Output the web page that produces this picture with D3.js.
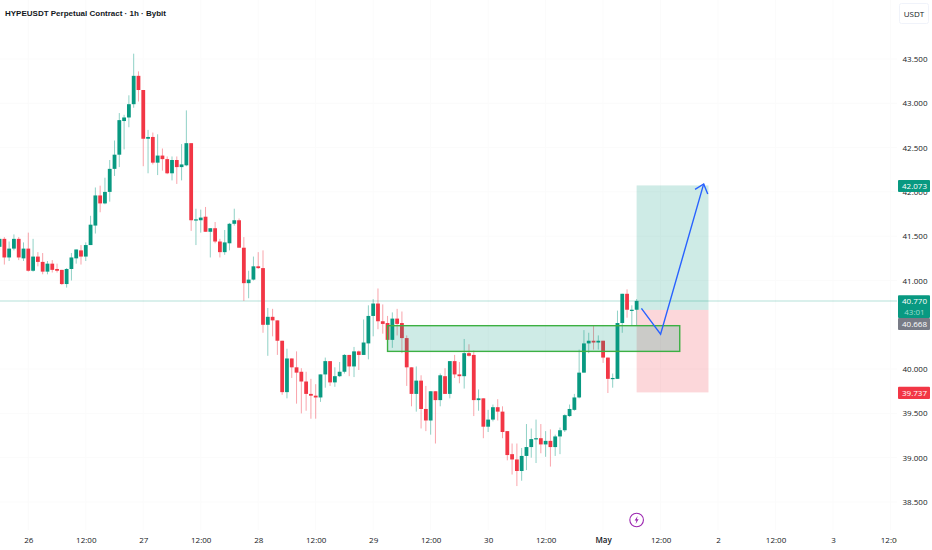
<!DOCTYPE html>
<html>
<head>
<meta charset="utf-8">
<script src="https://cdn.jsdelivr.net/npm/d3@7"></script>
<style>
html, body { margin: 0; padding: 0; background: #fff; }
svg { display: block; }
text { font-family: "Open Sans", sans-serif; }
</style>
</head>
<body>
<svg id="chart" width="932" height="550"></svg>
<script>
// hourly candles, first one is 25 Apr 18:00
var firstCandle = Date.UTC(2025, 3, 25, 18);

var candleOpen = [
    41.38,41.47,41.26,41.36,41.47,41.25,
    41.36,41.11,41.27,41.21,41.10,41.19,41.13,41.12,40.96,41.13,41.25,41.34,41.27,41.40,41.62,41.96,41.87,42.00,42.26,42.42,42.80,42.84,42.99,43.31,
    43.15,42.60,42.62,42.33,42.41,42.37,42.21,42.36,42.28,42.30,42.55,41.68,41.68,41.72,41.55,41.59,41.44,41.32,41.42,41.64,41.68,41.37,40.97,41.01,
    41.16,41.14,40.50,40.59,40.55,40.32,39.74,40.12,40.02,39.97,39.86,39.72,39.70,39.68,39.94,40.09,39.85,39.92,39.97,40.16,40.03,40.20,40.16,40.29,
    40.60,40.74,40.54,40.52,40.33,40.57,40.52,40.35,40.02,39.72,39.87,39.55,39.42,39.75,39.65,39.92,39.72,40.09,39.94,39.92,40.18,40.16,39.65,39.67,
    39.35,39.43,39.57,39.52,39.30,39.04,38.98,38.85,39.02,39.12,39.21,39.22,39.15,39.19,39.12,39.24,39.31,39.47,39.54,39.68,39.96,40.29,40.32,40.30,
    40.32,40.13,39.89,39.89,40.52,40.85,40.66,40.67
];
var candleHigh = [
    41.49,41.49,41.44,41.52,41.49,41.43,
    41.54,41.47,41.32,41.31,41.22,41.23,41.19,41.12,41.14,41.31,41.35,41.40,41.43,41.73,42.05,42.07,42.16,42.36,42.58,42.89,42.87,43.09,43.56,43.36,
    43.15,42.70,42.67,42.65,42.49,42.40,42.40,42.40,42.54,42.92,42.55,41.81,41.80,41.83,41.59,41.66,41.47,41.57,41.65,41.81,41.70,41.49,41.11,41.27,
    41.32,41.34,40.69,40.68,40.55,40.32,40.23,40.12,40.20,40.01,39.97,39.89,39.83,39.94,40.13,40.09,40.02,40.08,40.17,40.16,40.25,40.21,40.56,40.72,
    40.79,40.91,40.73,40.60,40.64,40.68,40.65,40.38,40.02,40.03,39.93,39.81,39.75,39.75,39.95,40.01,40.09,40.16,40.08,40.34,40.28,40.21,39.77,39.67,
    39.54,39.60,39.66,39.58,39.30,39.16,39.16,39.11,39.38,39.33,39.43,39.38,39.30,39.32,39.26,39.34,39.49,39.60,39.72,40.22,40.44,40.41,40.49,40.38,
    40.32,40.13,39.95,40.66,40.85,40.90,40.72,40.79
];
var candleLow = [
    41.34,41.18,41.22,41.34,41.23,41.22,
    41.10,41.10,41.16,41.07,41.07,41.09,41.09,40.95,40.92,41.00,41.19,41.18,41.22,41.40,41.53,41.77,41.86,41.89,42.18,42.28,42.48,42.73,42.95,43.02,
    42.29,42.21,42.31,42.19,42.24,42.20,42.13,42.09,42.13,42.29,41.56,41.40,41.54,41.55,41.26,41.42,41.26,41.29,41.34,41.62,41.37,40.77,40.80,41.00,
    41.13,40.41,40.15,40.37,40.16,39.71,39.67,39.90,39.61,39.50,39.53,39.44,39.44,39.63,39.79,39.81,39.80,39.91,39.95,39.92,39.91,39.99,40.16,40.11,
    40.37,40.45,40.40,40.33,40.24,40.38,40.18,39.81,39.58,39.52,39.33,39.30,39.26,39.16,39.58,39.72,39.67,39.90,39.84,39.78,40.14,39.47,39.53,39.22,
    39.29,39.41,39.42,39.22,38.97,38.81,38.68,38.74,38.86,39.00,38.94,39.05,39.01,38.90,39.02,39.04,39.29,39.46,39.53,39.67,39.96,40.18,40.22,40.22,
    40.07,39.73,39.79,39.89,40.41,40.58,40.49,40.49
];
var candleClose = [
    41.47,41.26,41.36,41.47,41.26,41.36,
    41.11,41.27,41.21,41.10,41.19,41.12,41.11,40.96,41.13,41.26,41.35,41.27,41.40,41.63,41.96,41.87,42.00,42.26,42.42,42.81,42.84,42.99,43.31,43.15,
    42.60,42.62,42.33,42.41,42.37,42.21,42.36,42.28,42.31,42.55,41.68,41.69,41.71,41.55,41.59,41.44,41.32,41.43,41.64,41.68,41.37,40.97,41.01,41.16,
    41.14,40.50,40.59,40.55,40.32,39.74,40.12,40.02,39.96,39.86,39.72,39.70,39.68,39.94,40.09,39.85,39.92,39.97,40.16,40.03,40.20,40.16,40.30,40.60,
    40.74,40.54,40.51,40.33,40.57,40.51,40.35,40.02,39.72,39.87,39.55,39.42,39.75,39.65,39.93,39.72,40.09,39.94,39.92,40.18,40.15,39.65,39.67,39.35,
    39.43,39.57,39.52,39.29,39.03,38.98,38.85,39.02,39.12,39.21,39.22,39.15,39.19,39.12,39.24,39.31,39.48,39.55,39.68,39.96,40.29,40.32,40.30,40.32,
    40.13,39.89,39.90,40.52,40.85,40.67,40.67,40.77
];

// 40.500 is hidden behind the price tags in the picture, so it has no label
var priceTicks = [38.5, 39, 39.5, 40, 41, 41.5, 42, 42.5, 43, 43.5];
var hourTicks = [0, 12, 24, 36, 48, 60, 72, 84, 96, 108, 120, 132, 144, 156, 168, 180];
var hourLabels = ['26', '12:00', '27', '12:00', '28', '12:00', '29', '12:00', '30', '12:00', 'May', '12:00', '2', '12:00', '3', '12:00'];

// the drawings on top of the candles, hours count from 26 Apr 00:00
var zoneHours = [75, 136];
var zonePrices = [40.49, 40.20];
var positionHours = [127, 142];
var positionPrices = [42.073, 40.668, 39.737];
var arrowHours = [128, 132, 141];
var arrowPrices = [40.685, 40.395, 42.09];
var arrowWingHours = [139.2, 141.85];
var arrowWingPrices = [42.028, 41.975];
var lastPrice = 40.77;

var green = '#089981',
    red = '#f23645',
    paneRight = 897
;

function hours_to_date(h) {
    return new Date(Date.UTC(2025, 3, 26) + h * 60 * 60 * 1000);
}

var svg = d3.select('#chart'),
    x = d3.scaleUtc().domain([hours_to_date(0), hours_to_date(180)]).range([28.3, 890.5]),
    y = d3.scaleLinear().domain([38.5, 43.5]).range([502, 59])
;

svg.append('clipPath').attr('id', 'pane')
    .append('rect').attr('width', paneRight).attr('height', 550);

var pane = svg.append('g').attr('clip-path', 'url(#pane)');

// nearly invisible grid
pane.selectAll('.hgrid').data(priceTicks).enter().append('line')
    .attr('x1', 0).attr('x2', paneRight)
    .attr('y1', d => y(d)).attr('y2', d => y(d))
    .attr('stroke', '#fbfbfb');
pane.selectAll('.vgrid').data(hourTicks).enter().append('line')
    .attr('x1', d => x(hours_to_date(d))).attr('x2', d => x(hours_to_date(d)))
    .attr('y1', 0).attr('y2', 530)
    .attr('stroke', '#fbfbfb');

// last price line
pane.append('line')
    .attr('x1', 0).attr('x2', paneRight)
    .attr('y1', y(lastPrice)).attr('y2', y(lastPrice))
    .attr('stroke', green).attr('stroke-opacity', 0.2).attr('stroke-width', 1.5);

// candles
var candles = candleOpen.map((o, i) => ({
    date: new Date(firstCandle + i * 60 * 60 * 1000),
    open: o, high: candleHigh[i], low: candleLow[i], close: candleClose[i]
}));

var candle = pane.selectAll('.candle').data(candles).enter().append('g');

candle.append('line')
    .attr('x1', d => x(d.date)).attr('x2', d => x(d.date))
    .attr('y1', d => y(d.high)).attr('y2', d => y(d.low))
    .attr('stroke', d => d.close >= d.open ? green : red)
    .attr('stroke-opacity', 0.45);

candle.append('rect')
    .attr('x', d => x(d.date) - 1.9)
    .attr('width', 3.8)
    .attr('y', d => y(Math.max(d.open, d.close)))
    .attr('height', d => Math.max(1.2, Math.abs(y(d.open) - y(d.close))))
    .attr('fill', d => d.close >= d.open ? green : red);

// long position box
pane.append('rect')
    .attr('x', x(hours_to_date(positionHours[0])))
    .attr('width', x(hours_to_date(positionHours[1])) - x(hours_to_date(positionHours[0])))
    .attr('y', y(positionPrices[0]))
    .attr('height', y(positionPrices[1]) - y(positionPrices[0]))
    .attr('fill', green).attr('fill-opacity', 0.2);
pane.append('rect')
    .attr('x', x(hours_to_date(positionHours[0])))
    .attr('width', x(hours_to_date(positionHours[1])) - x(hours_to_date(positionHours[0])))
    .attr('y', y(positionPrices[1]))
    .attr('height', y(positionPrices[2]) - y(positionPrices[1]))
    .attr('fill', red).attr('fill-opacity', 0.2);

// demand zone
pane.append('rect')
    .attr('x', x(hours_to_date(zoneHours[0])))
    .attr('width', x(hours_to_date(zoneHours[1])) - x(hours_to_date(zoneHours[0])))
    .attr('y', y(zonePrices[0]))
    .attr('height', y(zonePrices[1]) - y(zonePrices[0]))
    .attr('fill', green).attr('fill-opacity', 0.2)
    .attr('stroke', '#3cb043').attr('stroke-width', 1.4);

// arrow
var arrow_line = d3.line()
    .x(d => x(hours_to_date(d[0])))
    .y(d => y(d[1]));

pane.append('path')
    .attr('d', arrow_line(arrowHours.map((h, i) => [h, arrowPrices[i]])))
    .attr('fill', 'none').attr('stroke', '#2962ff').attr('stroke-width', 1.4);
pane.append('path')
    .attr('d', arrow_line([
        [arrowWingHours[0], arrowWingPrices[0]],
        [arrowHours[2], arrowPrices[2]],
        [arrowWingHours[1], arrowWingPrices[1]]
    ]))
    .attr('fill', 'none').attr('stroke', '#2962ff').attr('stroke-width', 1.4);

// title
svg.append('text')
    .attr('x', 5).attr('y', 15.5)
    .style('font-family', '"Liberation Sans", sans-serif')
    .attr('font-size', 8).attr('font-weight', 700).attr('fill', '#131722')
    .text('HYPEUSDT Perpetual Contract · 1h · Bybit');

// time axis
var timeAxis = pane.append('g')
    .attr('transform', 'translate(0,534)')
    .call(d3.axisBottom(x)
        .tickValues(hourTicks.map(hours_to_date))
        .tickFormat((d, i) => hourLabels[i])
        .tickSize(0)
    );
timeAxis.select('.domain').remove();
timeAxis.selectAll('text')
    .style('font-family', '"Open Sans", sans-serif')
    .attr('font-size', 8).attr('fill', '#131722')
    .attr('font-weight', (d, i) => hourLabels[i] == 'May' ? 600 : 400);

// price axis
var priceAxis = svg.append('g')
    .attr('transform', 'translate(902.5,0)')
    .call(d3.axisRight(y)
        .tickValues(priceTicks)
        .tickFormat(d3.format('.3f'))
        .tickSize(0)
        .tickPadding(0)
    );
priceAxis.select('.domain').remove();
priceAxis.selectAll('text')
    .style('font-family', '"Open Sans", sans-serif')
    .attr('font-size', 8).attr('fill', '#131722');

// USDT box
svg.append('rect')
    .attr('x', 899.5).attr('y', 3.5).attr('width', 29).attr('height', 20).attr('rx', 2)
    .attr('fill', '#fff').attr('stroke', '#f0f3fa');
svg.append('text')
    .attr('x', 914).attr('y', 16.5).attr('text-anchor', 'middle')
    .attr('font-size', 8).attr('fill', '#131722')
    .text('USDT');

// price tags
function price_tag(top, height, colour, label) {
    svg.append('rect')
        .attr('x', 898).attr('width', 32)
        .attr('y', top).attr('height', height)
        .attr('rx', 1)
        .attr('fill', colour);
    svg.append('text')
        .attr('x', 914.5).attr('y', top + 8.8).attr('text-anchor', 'middle')
        .attr('font-size', 8).attr('fill', '#fff')
        .text(label);
}

price_tag(180, 12, green, '42.073');
price_tag(386.7, 12.3, red, '39.737');
price_tag(295.3, 22.7, green, '40.770');
svg.append('text')
    .attr('x', 914.5).attr('y', 314.8).attr('text-anchor', 'middle')
    .attr('font-size', 8).attr('fill', '#9fdcd0')
    .text('43:01');
price_tag(318, 12, '#787b86', '40.668');

// lightning marker under the last candle
var marker = svg.append('g')
    .attr('transform', 'translate(' + x(candles[candles.length - 1].date) + ',520)');
marker.append('circle')
    .attr('r', 6.8)
    .attr('fill', '#fff').attr('stroke', '#9c27b0').attr('stroke-width', 1.1);
marker.append('path')
    .attr('d', 'M1,-4 L-2,0.5 L-0.2,0.5 L-1,4 L2,-0.8 L0.2,-0.8 Z')
    .attr('fill', '#9c27b0');
</script>
</body>
</html>
